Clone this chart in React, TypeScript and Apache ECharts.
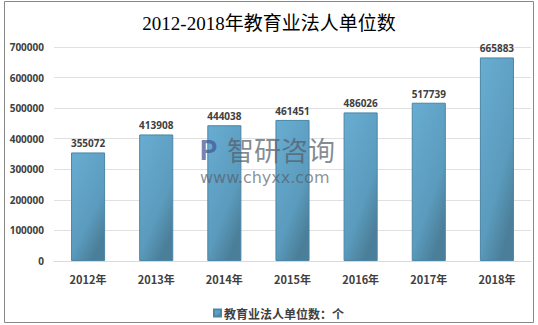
import React, { useEffect, useRef } from "react";
import * as echarts from "echarts";

const categories = ["2012年", "2013年", "2014年", "2015年", "2016年", "2017年", "2018年"];
const values = [355072, 413908, 444038, 461451, 486026, 517739, 665883];
const seriesName = "教育业法人单位数：个";
const titleText = "2012-2018年教育业法人单位数";

export default function App() {
  const ref = useRef<HTMLDivElement>(null);
  useEffect(() => {
    document.body.style.margin = "0";
    if (!ref.current) return;
    const chart = echarts.init(ref.current, null, { renderer: "svg" });
    const bold = "Open Sans";
    chart.setOption({
      animation: false,
      backgroundColor: "#ffffff",
      title: {
        text: titleText,
        left: "center",
        top: 9,
        textStyle: {
          fontFamily: "Liberation Serif, 'Noto Sans CJK SC', serif",
          fontSize: 19,
          fontWeight: "normal",
          color: "#000000",
        },
      },
      grid: { left: 54, right: 7, top: 47, bottom: 64, containLabel: false },
      legend: {
        data: [seriesName],
        left: 208,
        top: 302,
        itemWidth: 7,
        itemHeight: 7,
        itemGap: 4,
        icon: "rect",
        textStyle: {
          fontFamily: "'Noto Sans CJK SC', sans-serif",
          fontSize: 12,
          fontWeight: "bold",
          color: "#404040",
          padding: [0, 0, 0, -2],
        },
      },
      xAxis: {
        type: "category",
        data: categories,
        axisLine: { lineStyle: { color: "#d9d9d9", width: 1 } },
        axisTick: { show: false },
        axisLabel: {
          margin: 12,
          fontFamily: "'Noto Sans CJK SC', sans-serif",
          fontSize: 11,
          fontWeight: "bold",
          color: "#404040",
        },
      },
      yAxis: {
        type: "value",
        min: 0,
        max: 700000,
        interval: 100000,
        axisLine: { show: false },
        axisTick: { show: false },
        splitLine: { lineStyle: { color: "#e0e0e0", width: 1 } },
        axisLabel: {
          margin: 10,
          fontFamily: bold,
          fontSize: 10,
          fontWeight: "bold",
          color: "#404040",
          formatter: (v: number) => String(v),
        },
      },
      series: [
        {
          name: seriesName,
          type: "bar",
          data: values,
          barWidth: "50%",
          itemStyle: {
            color: new echarts.graphic.LinearGradient(0, 0, 0.6, 1, [
              { offset: 0, color: "#68add2" },
              { offset: 0.7, color: "#5b9bbd" },
              { offset: 1, color: "#4b7f99" },
            ]),
            borderColor: "#4a86a6",
            borderWidth: 1,
          },
          label: {
            show: true,
            position: "top",
            distance: 4,
            fontFamily: bold,
            fontSize: 10,
            fontWeight: "bold",
            color: "#404040",
          },
        },
      ],
      graphic: [
        {
          type: "rect",
          shape: { x: 4.5, y: 1.5, width: 529, height: 321 },
          style: { fill: "none", stroke: "#888888", lineWidth: 1 },
          silent: true,
          z: 100,
        },
        {
          type: "text",
          x: 200,
          y: 137,
          style: {
            text: "P",
            fontSize: 27,
            fontWeight: "bold",
            fontFamily: "Roboto, sans-serif",
            fill: "rgba(70,90,150,0.75)",
          },
          z: 100,
        },
        {
          type: "text",
          x: 227,
          y: 136,
          style: {
            text: "智研咨询",
            fontSize: 27,
            fontFamily: "'Noto Sans CJK SC', sans-serif",
            fill: "rgba(85,95,105,0.72)",
          },
          z: 100,
        },
        {
          type: "text",
          x: 200,
          y: 169,
          style: {
            text: "www.chyxx.com",
            fontSize: 16,
            fontFamily: "'DejaVu Sans', sans-serif",
            fill: "rgba(85,95,105,0.7)",
          },
          z: 100,
        },
      ],
    });
    return () => chart.dispose();
  }, []);
  return <div ref={ref} style={{ width: 538, height: 325 }} />;
}
